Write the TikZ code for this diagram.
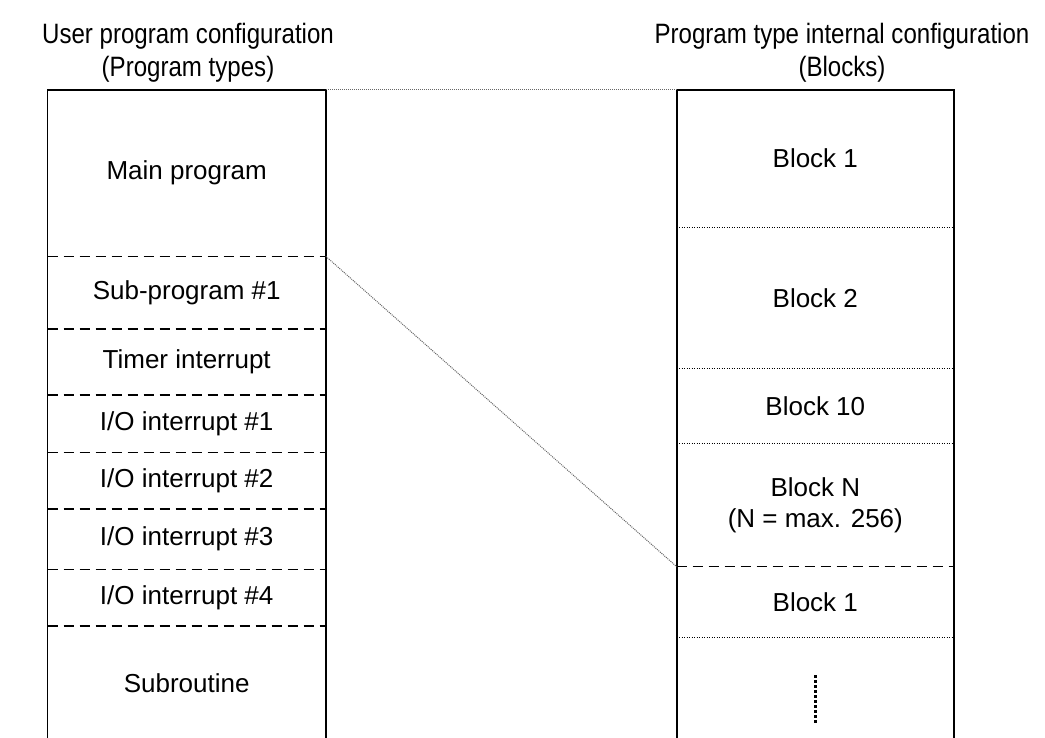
\documentclass[tikz,border=0pt]{standalone}
\usepackage{fontspec}
\setmainfont{Liberation Sans}
\newfontfamily\narrowfont[FakeStretch=0.86]{Liberation Sans}
\usetikzlibrary{positioning}

\begin{document}
\begin{tikzpicture}[
  x=1pt, y=-1pt,
  lseg/.style={inner sep=0pt, minimum width=278pt, font=\fontsize{26}{31}\selectfont, align=center},
  rseg/.style={lseg, minimum width=277pt},
  coltitle/.style={align=center, font=\narrowfont\fontsize{28}{33}\selectfont},
  frame/.style={line width=1.8pt},
  dashdiv/.style={line width=1.5pt, dash pattern=on 10pt off 6pt},
  dotdiv/.style={line width=1pt, dash pattern=on 1pt off 1.5pt},
  link/.style={line width=1pt, gray!80!black, dash pattern=on 1pt off 1pt}
]
\useasboundingbox (0,0) rectangle (1045,738);

% column titles
\node[coltitle] (ltitle) at (188,53) {User program configuration\\(Program types)};
\node[coltitle] (rtitle) at (842,53) {Program type internal configuration\\(Blocks)};

% left column: program types
\node[lseg, minimum height=166pt, anchor=north] (main) at (186.7,90) {Main program};
\node[lseg, minimum height=72pt, below=0pt of main] (sub) {Sub-program \#1};
\node[lseg, minimum height=66pt, below=0pt of sub] (timer) {Timer interrupt};
\node[lseg, minimum height=57pt, below=0pt of timer] (ioa) {I/O interrupt \#1};
\node[lseg, minimum height=56pt, below=0pt of ioa] (iob) {I/O interrupt \#2};
\node[lseg, minimum height=60pt, below=0pt of iob] (ioc) {I/O interrupt \#3};
\node[lseg, minimum height=56pt, below=0pt of ioc] (iod) {I/O interrupt \#4};
\node[lseg, minimum height=115pt, below=0pt of iod] (subr) {Subroutine};

% right column: blocks
\node[rseg, minimum height=137pt, anchor=north] (blka) at (815.3,90) {Block 1};
\node[rseg, minimum height=141pt, below=0pt of blka] (blkb) {Block 2};
\node[rseg, minimum height=74pt, below=0pt of blkb] (blkj) {Block 10};
\node[rseg, minimum height=123pt, below=0pt of blkj] (blkn) {Block N\\(N = max. 256)};
\node[rseg, minimum height=70pt, below=0pt of blkn] (blkx) {Block 1};
\node[rseg, minimum height=103pt, below=0pt of blkx] (more) {};

\draw[frame] (subr.south west) |- (main.north east) -- (subr.south east);
\draw[frame] (more.south west) |- (blka.north east) -- (more.south east);

\foreach \s in {sub,timer,ioa,iob,ioc,iod,subr} { \draw[dashdiv] (\s.north west) -- (\s.north east); }
\foreach \s in {blkb,blkj,blkn,more} { \draw[dotdiv] (\s.north west) -- (\s.north east); }
\draw[dashdiv] (blkx.north west) -- (blkx.north east);

% continuation mark
\coordinate (mtop) at ([yshift=-38pt]more.north);
\coordinate (mbot) at ([yshift=-86pt]more.north);
\draw[line width=2.5pt, dash pattern=on 2.5pt off 2.5pt] (mtop) -- (mbot);

% links between the columns
\draw[link] (main.north east) -- (blka.north west);
\draw[link] (main.south east) -- (blkn.south west);

\end{tikzpicture}
\end{document}
